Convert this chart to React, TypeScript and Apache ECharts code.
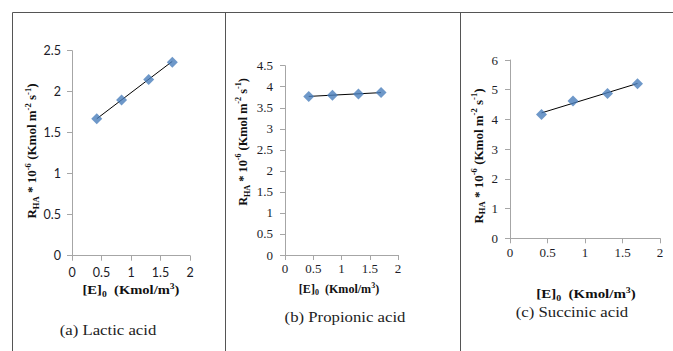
import React, { useEffect, useRef } from "react";
import * as echarts from "echarts";

const xValues = [0.42, 0.84, 1.3, 1.7];
const lacticValues = [1.67, 1.9, 2.15, 2.36];
const propionicValues = [3.77, 3.8, 3.83, 3.86];
const succinicValues = [4.17, 4.62, 4.87, 5.2];

const trendX = [0.42, 1.7];
const lacticTrend = [1.67, 2.37];
const propionicTrend = [3.77, 3.86];
const succinicTrend = [4.22, 5.21];

const captions = ["(a) Lactic acid", "(b) Propionic acid", "(c) Succinic acid"];
const xTickLabels = ["0", "0.5", "1", "1.5", "2"];

const SERIF = "Liberation Serif";
const SANS = "Lato";
const BLUE = "#4A7EBB";

const pairs = (xs: number[], ys: number[]) => xs.map((x, i) => [x, ys[i]]);

const titleRich = (size: number) => ({
  b: { fontFamily: SERIF, fontWeight: "bold", fontSize: size, fill: "#111", lineHeight: size + 4 },
  sub: { fontFamily: SERIF, fontWeight: "bold", fontSize: size * 0.66, fill: "#111", verticalAlign: "bottom", lineHeight: size + 4 },
  sup: { fontFamily: SERIF, fontWeight: "bold", fontSize: size * 0.66, fill: "#111", verticalAlign: "top", lineHeight: size + 4 },
});
const yTitleText = "{b|R}{sub|HA}{b| * 10}{sup|-6}{b| (Kmol m}{sup|-2}{b| s}{sup|-1}{b|)}";
const xTitleText = "{b|[E]}{sub|0}{b|  (Kmol/m}{sup|3}{b|)}";

export default function App() {
  const ref = useRef<HTMLDivElement>(null);
  useEffect(() => {
    if (!ref.current) return;
    const chart = echarts.init(ref.current, undefined, { renderer: "svg" });

    const grids = [
      { left: 72, top: 50.7, width: 118, height: 205 },
      { left: 285, top: 65.7, width: 113, height: 189.3 },
      { left: 510, top: 60, width: 150, height: 178.3 },
    ];
    const yMax = [2.5, 4.5, 6];
    const yInt = [0.5, 0.5, 1];
    const tickFonts = [SANS, SERIF, SERIF];
    const fontSizes = [12.5, 13, 13];
    const xMargins = [10, 7, 8];
    const yMargins = [11, 12, 12];

    const axisLine = { show: true, lineStyle: { color: "#A6A6A6", width: 1 } };
    const axisTick = { show: true, length: 5, inside: false, lineStyle: { color: "#A6A6A6" } };

    const xAxis = grids.map((_, i) => ({
      type: "value",
      gridIndex: i,
      min: 0,
      max: 2,
      interval: 0.5,
      axisLine,
      axisTick,
      splitLine: { show: false },
      axisLabel: {
        fontFamily: tickFonts[i],
        fontSize: fontSizes[i],
        color: "#1c1c28",
        margin: xMargins[i],
        formatter: (v: number) => xTickLabels[Math.round(v * 2)] ?? String(v),
      },
    }));
    const yAxis = grids.map((_, i) => ({
      type: "value",
      gridIndex: i,
      min: 0,
      max: yMax[i],
      interval: yInt[i],
      axisLine,
      axisTick,
      splitLine: { show: false },
      axisLabel: {
        fontFamily: tickFonts[i],
        fontSize: fontSizes[i],
        color: "#1c1c28",
        margin: yMargins[i],
      },
    }));

    const valueSets = [lacticValues, propionicValues, succinicValues];
    const trendSets = [lacticTrend, propionicTrend, succinicTrend];
    const series: any[] = [];
    valueSets.forEach((vals, i) => {
      series.push({
        type: "line",
        xAxisIndex: i,
        yAxisIndex: i,
        data: pairs(trendX, trendSets[i]),
        symbol: "none",
        lineStyle: { color: "#000", width: 1 },
        silent: true,
        z: 2,
      });
      series.push({
        type: "scatter",
        xAxisIndex: i,
        yAxisIndex: i,
        data: pairs(xValues, vals),
        symbol: "diamond",
        symbolSize: 11,
        itemStyle: { color: BLUE },
        z: 3,
      });
    });

    const border = { stroke: "#555", lineWidth: 1 };
    const yTitles = [
      { x: 31.5, y: 151, size: 13 },
      { x: 243, y: 142, size: 12.3 },
      { x: 478, y: 156, size: 13 },
    ];
    const xTitles = [
      { x: 131, y: 290, size: 13, sx: 1.12 },
      { x: 339, y: 289, size: 11.5, sx: 1.05 },
      { x: 586, y: 294, size: 13, sx: 1.15 },
    ];
    const capPos = [
      { x: 108, y: 330 },
      { x: 345, y: 317 },
      { x: 572, y: 312 },
    ];

    const graphic: any[] = [
      { type: "line", shape: { x1: 12.5, y1: 12.5, x2: 673, y2: 12.5 }, style: border },
      { type: "line", shape: { x1: 12.5, y1: 12.5, x2: 12.5, y2: 351 }, style: border },
      { type: "line", shape: { x1: 225.5, y1: 12.5, x2: 225.5, y2: 351 }, style: border },
      { type: "line", shape: { x1: 460.5, y1: 12.5, x2: 460.5, y2: 351 }, style: border },
    ];
    yTitles.forEach((t) => {
      graphic.push({
        type: "text",
        x: t.x,
        y: t.y,
        rotation: Math.PI / 2,
        style: {
          text: yTitleText,
          rich: titleRich(t.size),
          align: "center",
          verticalAlign: "middle",
        },
      });
    });
    xTitles.forEach((t) => {
      graphic.push({
        type: "text",
        x: t.x,
        y: t.y,
        scaleX: t.sx,
        style: {
          text: xTitleText,
          rich: titleRich(t.size),
          align: "center",
          verticalAlign: "middle",
        },
      });
    });
    capPos.forEach((c, i) => {
      graphic.push({
        type: "text",
        x: c.x,
        y: c.y,
        scaleX: 1.08,
        style: {
          text: captions[i],
          fontFamily: SERIF,
          fontSize: 15.5,
          fill: "#222",
          align: "center",
          verticalAlign: "middle",
        },
      });
    });

    chart.setOption({
      animation: false,
      backgroundColor: "#fff",
      grid: grids.map((g) => ({ ...g, containLabel: false })),
      xAxis,
      yAxis,
      series,
      graphic,
    });
    return () => chart.dispose();
  }, []);
  return (
    <div
      ref={ref}
      style={{ position: "fixed", left: 0, top: 0, width: 673, height: 351 }}
    />
  );
}
